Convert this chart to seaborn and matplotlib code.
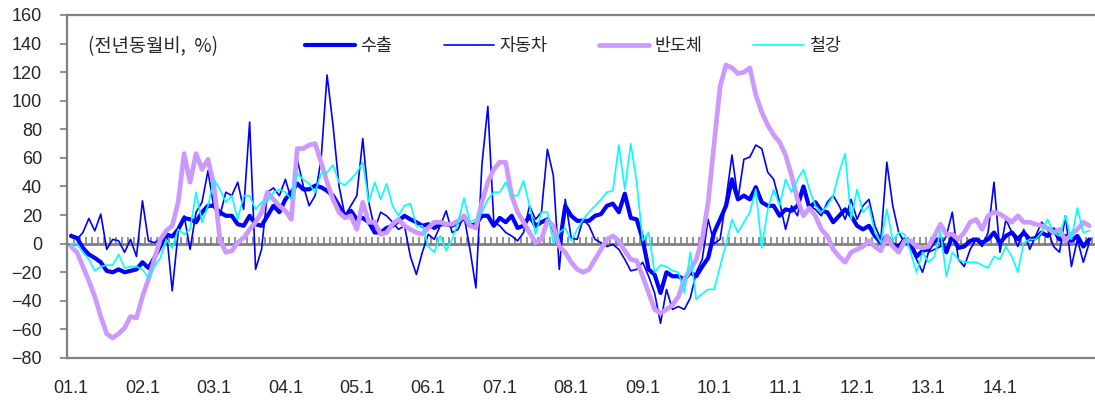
import matplotlib
matplotlib.use('Agg')
import matplotlib.pyplot as plt
import seaborn as sns
import numpy as np
import pandas as pd


# monthly YoY growth, 2001.1 ~ 2015.4
months = pd.date_range('2001-01-01', periods=172, freq='MS')
tick_labels = ['01.1', '02.1', '03.1', '04.1', '05.1', '06.1', '07.1',
               '08.1', '09.1', '10.1', '11.1', '12.1', '13.1', '14.1']

export = [5.4, 4, -3, -7.5, -10, -13, -19, -20, -18, -20,
          -19, -18, -13, -17, -10, -2, 6.6, 5, 10, 18,
          17, 15, 22, 26.5, 26.5, 22, 19.5, 19.5, 13.6, 12.5,
          19.5, 13.6, 12.5, 19.5, 26.5,
          22, 31, 36, 42, 38, 38, 40.6, 39.5, 37, 33.6,
          26.5, 19.5, 23, 17, 18, 15, 7.8, 7.8, 11, 12.5,
          16, 19.5, 17, 15, 12.5, 13.6, 11, 13.6, 13.6, 12.5,
          15, 18, 12.5, 13.6, 19.5,
          19.5, 12.5, 18, 15, 19.5, 11, 12.5, 19.5, 12.5, 15,
          17, 11, -2, 26.5, 19.5, 16, 16, 16, 19.5, 20.7,
          26.5, 28, 22, 35, 18, 17, 3, -18, -21.6, -34.5,
          -20, -22.8, -22.8, -25, -20,
          -22.8, -16, -10, 7.8, 17, 26.5, 45, 31, 33.6, 31,
          39.5, 29, 26.5, 26.5, 19.5, 24, 23, 26.5, 40, 25,
          29, 23, 22, 15, 19.5, 24, 19.5, 12.5, 10, 12.5,
          5.4, 0.7, 5.4, -0.5, -2,
          3, -0.5, -9, -5, -4, 2, 3, -6, 5.4, -3,
          -2, 2, 3, 0.7, 3, 7.8, 0.7, 5.4, 7.8, 3,
          7.8, 3, 4, 7.8, 5.4, 10, 3, 5.4, 2, 5.4,
          -2, 3]

auto = [6.6, 3, 7.8, 17.6, 9, 20.7, -4, 3, 2, -6,
        3, -9, 30, 2, 0.7, 3, 10, -33, 8, 19.5,
        -4, 22, 29, 51, 25, 19.5, 36, 33.6, 43, 24,
        85, -18, -4, 36, 39,
        33.6, 45, 31, 59, 40.6, 26.5, 33.6, 59, 118, 83,
        40.6, 19.5, 26.5, 33.6, 73.6, 29, 10, 22, 19.5, 15,
        10, 12.5, -9, -21.6, -6, 6.6, 3, 12.5, 23, 7.8,
        10, 19.5, -4, -31, 55,
        96, 15, 12.5, 7.8, 5.4, 2, 7.8, 26.5, 17, 22,
        66, 47.7, -18, 31, 4, 3, 17, 12.5, 3, 0.7,
        -2, -0.5, -4, -11, -19, -18, -13, -22.8, -34.5, -55.7,
        -32, -46, -44, -46, -38,
        -20, -11, 17, 0, 3, 31, 62, 31, 59, 60.6,
        69, 66.5, 50, 45, 29, 10, 26.5, 19.5, 40.6, 26.5,
        24, 19.5, 29, 33.6, 26.5, 17, 31, 17, 26.5, 31,
        12.5, 3, 57, 26.5, 7.8,
        0.7, -2, -11, -20, -6, -4, -2, 5.4, 22, -11,
        -16, -4, 3, -2, 7.8, 43, -6, 17, 7.8, -2,
        10, -4, 5.4, 15, 10, -2, -6, 19.5, -16, 3,
        -13, 0.7]

semi = [-2, -6, -16, -26, -37, -51, -63, -66, -63, -59,
        -51, -52, -37, -25, -11, 3, 9, 12.5, 29, 63,
        43, 63, 52, 59, 41, 3, -6, -5, 0.7, 4,
        10, 15, 22, 36, 31,
        26.5, 23, 17, 66.5, 66.5, 69, 70, 57, 43, 31,
        22, 18, 19.5, 10, 29, 15, 15, 6.6, 7.8, 13.6,
        17, 12.5, 10, 7.8, 6.6, 11, 15, 15, 13.6, 13.6,
        16, 19.5, 12.5, 11, 29,
        43, 52, 57, 57, 33.6, 22, 15, 7.8, 0.7, 3,
        16, 12.5, -2, -6, -13, -18, -20, -18, -11, -4,
        3, 5.4, 2, -5, -11, -12, -22.8, -34.5, -46, -48.6,
        -46, -43, -37, -25, -18,
        -11, 3, 29, 70, 110, 125, 123, 119, 120, 123,
        104, 92, 83, 76, 71, 62, 47.7, 31, 19.5, 25,
        19.5, 10, 5.4, -4, -9, -13, -6, -4, -2, 2,
        -2, -5, 5.4, -2, -6,
        2, 2, -2, -3, -2, 5.4, 13.6, 6.6, 6.6, 3,
        7.8, 15, 17, 10, 19.5, 22, 20.7, 18, 15, 19.5,
        15, 15, 13.6, 12.5, 11, 7.8, 10, 2, 6.6, 10,
        15, 12.5]

steel = [0, 0, -6, -11, -19, -16, -15, -15, -7.5, -17,
         -16, -16, -18, -24, -16, -10, 3, -3, 10, 6.6,
         10, 36, 15, 26.5, 45, 38, 29, 33.6, 17, 33.6,
         33.6, 24, 29, 30, 36,
         38, 36, 31, 49, 45, 42, 36, 49, 50, 55,
         43, 41, 45, 50, 57, 29, 43, 31, 42, 26.5,
         19.5, 26.5, 28, 12.5, 12.5, -2, -6, 5.4, -5, 3,
         15, 32, 15, 17, 22,
         31, 36, 36, 43, 33.6, 33.6, 44, 26.5, 6.6, 22,
         22, 0.7, 7.8, 11, 2, 10, 17, 22, 26.5, 31,
         36, 37, 69, 38, 70, 43, 2, 7.8, -20, -15,
         -16, -19, -20, -34.5, -6,
         -39, -35, -32, -32, -16, 0, 17, 7.8, 15, 22,
         38, -3, 24, 38, 26.5, 45, 36, 45, 52, 38,
         26.5, 22, 26.5, 33.6, 50, 63, 17, 38, 22, 26.5,
         7.8, 0.7, 24, 2, 7.8,
         6.6, -6, -20, -6, -13, -9, 9, -23, -6, -11,
         -13, -13, -13, -15, -17, -9, -11, -2, -9, -20,
         0.7, 3, 3, 7.8, 17, 7.8, 5.4, 19.5, 3, 25,
         7.8, 9]

sns.set_style('white')
plt.rcParams['font.family'] = ['Liberation Sans', 'Noto Sans CJK KR']

W, H = 1095, 403
fig = plt.figure(figsize=(W / 100, H / 100), dpi=100)
ax = fig.add_axes([67 / W, 1 - 358 / H, (W - 67) / W, 343 / H])

x = np.arange(len(months))
series = [('수출', export, '#0000FF', 3.0),
          ('자동차', auto, '#0000FF', 1.2),
          ('반도체', semi, '#CC99FF', 3.4),
          ('철강', steel, '#00FFFF', 1.2)]
for name, vals, color, lw in series:
    sns.lineplot(x=x, y=vals, ax=ax, color=color, linewidth=lw, label=name, zorder=3)

ax.set_xlim(-0.67, 171.96)
ax.set_ylim(-80, 160)
ax.set_yticks(range(-80, 161, 20))
ax.set_xticks(range(0, 157, 12))
ax.set_xticklabels(tick_labels)
ax.tick_params(axis='x', length=0, pad=16, labelsize=13)
ax.tick_params(axis='y', direction='out', length=5, width=1.2, color='#808080',
               pad=13, labelsize=13, left=True)
for side in ['left', 'top', 'bottom']:
    ax.spines[side].set_color('#808080')
    ax.spines[side].set_linewidth(1.6)
ax.spines['right'].set_visible(False)

# zero line with monthly tick marks
zero = ax.secondary_xaxis(80 / 240)
zero.set_xticks(np.arange(0.5, 172, 1))
zero.tick_params(direction='in', length=5, width=1.2, color='#808080', labelbottom=False,
                 labeltop=False)
for s in zero.spines.values():
    s.set_color('#808080')
    s.set_linewidth(2)

ax.legend(loc='center left', bbox_to_anchor=(305 / W, 1 - 46 / H), bbox_transform=fig.transFigure,
          ncol=4, frameon=False, fontsize=12.5, handlelength=2.9, handletextpad=0.3,
          columnspacing=2.95, borderpad=0, borderaxespad=0)
fig.text(88 / W, 1 - 47 / H, '(전년동월비,  %)', va='center', ha='left', fontsize=13.5,
         family=['Noto Sans CJK KR', 'DejaVu Sans'])

fig.savefig('out.png', dpi=100)
